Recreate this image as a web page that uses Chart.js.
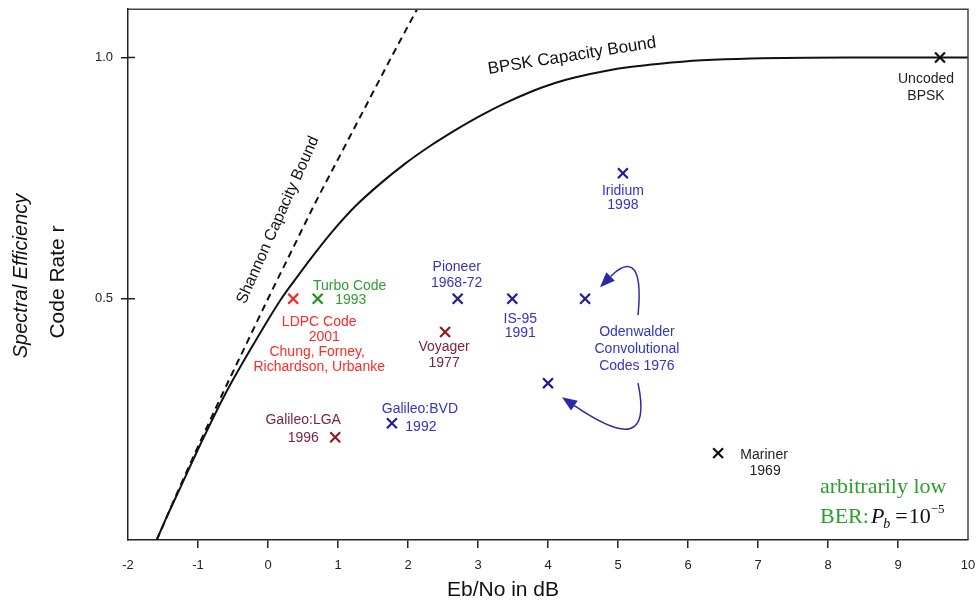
<!DOCTYPE html>
<html lang="en">
<head>
<meta charset="utf-8">
<title>Code rate vs Eb/No</title>
<script src="https://cdn.jsdelivr.net/npm/chart.js@4"></script>
<style>
    html, body { margin: 0; padding: 0; background: #fff; }
</style>
</head>
<body>
<canvas id="chart" width="979" height="605"></canvas>

<script>
    // Shannon capacity bound (dashed)
    const shannonEbNo = [-1.59, -1.44, -1.29, -0.98, -0.66, -0.33, 0.00, 0.34, 0.68, 1.04, 1.40, 1.76, 2.13];
    const shannonRate = [0.00, 0.05, 0.10, 0.20, 0.30, 0.40, 0.50, 0.60, 0.70, 0.80, 0.90, 1.00, 1.10];

    // BPSK capacity bound (solid)
    const bpskEbNo = [-1.59, -1.44, -1.28, -0.96, -0.62, -0.23, 0.19, 0.43, 0.68, 0.93, 1.25, 1.60, 1.95, 2.31, 2.67, 3.03, 3.38, 3.74, 4.10, 4.46, 4.82, 5.17, 5.60, 6.20, 6.90, 8.30, 10.0];
    const bpskRate = [0.00, 0.05, 0.10, 0.20, 0.30, 0.40, 0.50, 0.548, 0.596, 0.641, 0.692, 0.738, 0.779, 0.816, 0.849, 0.879, 0.905, 0.928, 0.947, 0.961, 0.972, 0.980, 0.987, 0.994, 0.998, 1.00, 1.00];

    // codes
    const codeNames = ['LDPC Code 2001', 'Turbo Code 1993', 'Pioneer 1968-72', 'IS-95 1991',
        'Odenwalder r=1/2', 'Odenwalder r=1/3', 'Voyager 1977', 'Galileo:BVD 1992',
        'Galileo:LGA 1996', 'Iridium 1998', 'Mariner 1969', 'Uncoded BPSK'];
    const codeEbNo = [0.36, 0.71, 2.71, 3.49, 4.53, 4.00, 2.53, 1.77, 0.96, 5.07, 6.43, 9.60];
    const codeRate = [0.50, 0.50, 0.50, 0.50, 0.50, 0.325, 0.431, 0.242, 0.213, 0.76, 0.18, 1.00];
    const codeLabels = [
        ['LDPC Code', '2001', 'Chung, Forney,', 'Richardson, Urbanke'],
        ['Turbo Code', '1993'],
        ['Pioneer', '1968-72'],
        ['IS-95', '1991'],
        [], [],
        ['Voyager', '1977'],
        ['Galileo:BVD', '1992'],
        ['Galileo:LGA', '1996'],
        ['Iridium', '1998'],
        ['Mariner', '1969'],
        ['Uncoded', 'BPSK']
    ];
    const odenwalderLabel = ['Odenwalder', 'Convolutional', 'Codes 1976'];

    const xTicks = [-2, -1, 0, 1, 2, 3, 4, 5, 6, 7, 8, 9, 10];
    const yTicks = [0.5, 1.0];

    // styles
    const RED = '#ff1f1f', GREEN = '#1f931f', NAVY = '#1c1c9c', MAROON = '#8e1c24', BLACK = '#111';
    const markerColors = [RED, GREEN, NAVY, NAVY, NAVY, NAVY, MAROON, NAVY, MAROON, NAVY, BLACK, BLACK];
    const textColors = ['#ff2a2a', '#2e9e2e', '#3434c4', '#3434c4', null, null, '#7a2444', '#3434c4', '#7a2444', '#3434c4', '#222', '#222'];
    // per line [dx, dy] from the marker, in px
    const labelOffsets = [
        [[26, 23], [31, 38], [24, 53], [26, 68]],
        [[32, -13], [33, 1]],
        [[-1, -32], [-1, -16]],
        [[8, 20], [8, 34]],
        [], [],
        [[-1, 15], [-1, 31]],
        [[28, -14], [29, 4]],
        [[-32, -17], [-32, 1]],
        [[0, 18], [0, 32]],
        [[46, 2], [47, 18]],
        [[-14, 22], [-14, 39]]
    ];
    const SANS = '"Liberation Sans", Arial, sans-serif';
    const SERIF = '"Liberation Serif", "Times New Roman", serif';

    const toXY = (xs, ys) => xs.map((x, i) => ({ x: x, y: ys[i] }));

    const annotations = {
        id: 'annotations',
        afterDraw(chart) {
            const ctx = chart.ctx;
            const xs = chart.scales.x, ys = chart.scales.y;
            const a = chart.chartArea;
            const px = v => xs.getPixelForValue(v);
            const py = v => ys.getPixelForValue(v);
            ctx.save();

            // top and right frame, inner part of y ticks
            ctx.strokeStyle = '#444';
            ctx.lineWidth = 1.5;
            ctx.beginPath();
            ctx.moveTo(a.left, a.top);
            ctx.lineTo(a.right, a.top);
            ctx.lineTo(a.right, a.bottom);
            ctx.stroke();
            ctx.strokeStyle = '#222';
            yTicks.forEach(v => {
                ctx.beginPath();
                ctx.moveTo(a.left, py(v));
                ctx.lineTo(a.left + 7, py(v));
                ctx.stroke();
            });

            // code labels
            ctx.font = '14px ' + SANS;
            ctx.textAlign = 'center';
            ctx.textBaseline = 'middle';
            codeLabels.forEach((lines, i) => {
                const mx = px(codeEbNo[i]), my = py(codeRate[i]);
                ctx.fillStyle = textColors[i];
                lines.forEach((t, j) => {
                    const o = labelOffsets[i][j];
                    ctx.fillText(t, mx + o[0], my + o[1]);
                });
            });
            ctx.fillStyle = '#3434c4';
            odenwalderLabel.forEach((t, j) => {
                ctx.fillText(t, px(5.27), py(0.396) + (j - 1) * 17);
            });

            // curved arrows for Odenwalder codes
            const arrows = [
                [[5.286, 0.466], [5.371, 0.590], [5.10, 0.576], [4.743, 0.524]],
                [[5.286, 0.325], [5.457, 0.207], [5.10, 0.207], [4.20, 0.296]]
            ];
            ctx.strokeStyle = '#2a2aa8';
            ctx.fillStyle = '#2a2aa8';
            ctx.lineWidth = 1.5;
            arrows.forEach(p => {
                const q = p.map(d => [px(d[0]), py(d[1])]);
                const ang = Math.atan2(q[3][1] - q[2][1], q[3][0] - q[2][0]);
                const L = 15, W = 6;
                const bx = q[3][0] - L * Math.cos(ang), by = q[3][1] - L * Math.sin(ang);
                ctx.beginPath();
                ctx.moveTo(q[0][0], q[0][1]);
                ctx.bezierCurveTo(q[1][0], q[1][1], q[2][0], q[2][1], bx, by);
                ctx.stroke();
                ctx.beginPath();
                ctx.moveTo(q[3][0], q[3][1]);
                ctx.lineTo(bx + W * Math.sin(ang), by - W * Math.cos(ang));
                ctx.lineTo(bx - W * Math.sin(ang), by + W * Math.cos(ang));
                ctx.closePath();
                ctx.fill();
            });

            // curve labels
            ctx.fillStyle = '#111';
            ctx.font = '16px ' + SANS;
            ctx.save();
            ctx.translate(px(0.143), py(0.663));
            ctx.rotate(-66 * Math.PI / 180);
            ctx.fillText('Shannon Capacity Bound', 0, 0);
            ctx.restore();
            ctx.save();
            ctx.font = '17px ' + SANS;
            ctx.translate(px(4.343), py(1.003));
            ctx.rotate(-9 * Math.PI / 180);
            ctx.fillText('BPSK Capacity Bound', 0, 0);
            ctx.restore();

            // axis titles
            ctx.fillStyle = '#111';
            ctx.font = '21px ' + SANS;
            ctx.fillText('Eb/No in dB', 503, 590);
            ctx.save();
            ctx.translate(58, 282);
            ctx.rotate(-Math.PI / 2);
            ctx.fillText('Code Rate r', 0, 0);
            ctx.restore();
            ctx.save();
            ctx.translate(21, 276);
            ctx.rotate(-Math.PI / 2);
            ctx.font = 'italic 20px ' + SANS;
            ctx.fillText('Spectral Efficiency', 0, 0);
            ctx.restore();

            // BER note
            const x0 = a.right - 148, y1 = a.bottom - 47, y2 = a.bottom - 17;
            ctx.textAlign = 'left';
            ctx.textBaseline = 'alphabetic';
            ctx.font = '22px ' + SERIF;
            ctx.fillStyle = '#2ca02c';
            ctx.fillText('arbitrarily low', x0, y1);
            let x = x0;
            ctx.fillText('BER:', x, y2);
            x += ctx.measureText('BER:').width + 2;
            ctx.fillStyle = '#111';
            ctx.font = 'italic 22px ' + SERIF;
            ctx.fillText('P', x, y2);
            x += ctx.measureText('P').width - 1;
            ctx.font = 'italic 14px ' + SERIF;
            ctx.fillText('b', x, y2 + 5);
            x += ctx.measureText('b').width + 5;
            ctx.font = '22px ' + SERIF;
            ctx.fillText('=', x, y2);
            x += ctx.measureText('=').width + 1;
            ctx.fillText('10', x, y2);
            x += ctx.measureText('10').width;
            ctx.font = '13px ' + SERIF;
            ctx.fillText('\u22125', x, y2 - 10);

            ctx.restore();
        }
    };

    new Chart(document.getElementById('chart').getContext('2d'), {
        type: 'scatter',
        data: {
            datasets: [
                {
                    label: 'Shannon Capacity Bound',
                    data: toXY(shannonEbNo, shannonRate),
                    showLine: true,
                    borderColor: '#111',
                    borderWidth: 2,
                    borderDash: [7, 5],
                    pointRadius: 0,
                    cubicInterpolationMode: 'monotone'
                },
                {
                    label: 'BPSK Capacity Bound',
                    data: toXY(bpskEbNo, bpskRate),
                    showLine: true,
                    borderColor: '#111',
                    borderWidth: 2,
                    pointRadius: 0,
                    cubicInterpolationMode: 'monotone'
                },
                {
                    label: 'Codes',
                    data: toXY(codeEbNo, codeRate),
                    pointStyle: 'crossRot',
                    pointRadius: 7,
                    pointBorderWidth: 2.2,
                    pointBorderColor: markerColors,
                    pointBackgroundColor: markerColors
                }
            ]
        },
        options: {
            responsive: false,
            animation: false,
            layout: { padding: { top: 9, right: 11, left: 0, bottom: 0 } },
            plugins: {
                legend: { display: false },
                tooltip: { enabled: false }
            },
            scales: {
                x: {
                    type: 'linear',
                    min: -2,
                    max: 10,
                    afterBuildTicks: s => { s.ticks = xTicks.map(v => ({ value: v })); },
                    afterFit: s => { s.height = 65; s.paddingLeft = 0; s.paddingRight = 0; },
                    ticks: {
                        callback: v => String(v),
                        color: '#222',
                        font: { family: SANS, size: 13 },
                        padding: 10,
                        maxRotation: 0,
                        autoSkip: false
                    },
                    grid: {
                        drawOnChartArea: false,
                        tickLength: 8,
                        lineWidth: 1.5,
                        color: c => (c.tick && (c.tick.value === -2 || c.tick.value === 10)) ? 'rgba(0,0,0,0)' : '#222'
                    },
                    border: { color: '#222', width: 1.5 }
                },
                y: {
                    type: 'linear',
                    min: 0,
                    max: 1.1,
                    afterBuildTicks: s => { s.ticks = yTicks.map(v => ({ value: v })); },
                    afterFit: s => { s.width = 128; s.paddingTop = 0; s.paddingBottom = 0; },
                    ticks: {
                        callback: v => v.toFixed(1),
                        color: '#222',
                        font: { family: SANS, size: 13 },
                        padding: 8
                    },
                    grid: {
                        drawOnChartArea: false,
                        tickLength: 7,
                        lineWidth: 1.5,
                        color: '#222'
                    },
                    border: { color: '#222', width: 1.5 }
                }
            }
        },
        plugins: [annotations]
    });
</script>
</body>
</html>
